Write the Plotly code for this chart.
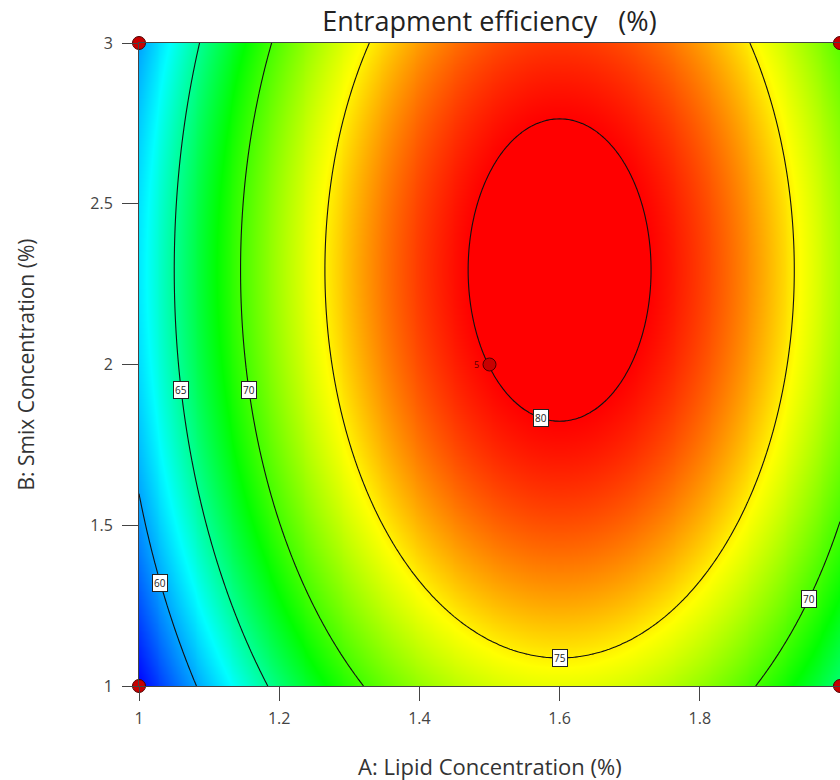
import numpy as np
import plotly.graph_objects as go

# ---- Data (quadratic response-surface model, coded units) ----
# Entrapment efficiency = b0 + bA*a + bB*b + bAB*a*b + bAA*a^2 + bBB*b^2
# a = (A - 1.5)/0.5 ,  b = (B - 2)/1
coef_names = ["b0", "bA", "bB", "bAB", "bAA", "bBB"]
coef_values = [80.02, 5.26, 2.38, 0.0, -13.15, -4.05]
A_center, A_half = 1.5, 0.5
B_center, B_half = 2.0, 1.0

contour_levels = [60, 65, 70, 75, 80]
# contour label anchors: (level, axis_given, value_given, branch)
label_level = [60, 65, 70, 70, 75, 80]
label_given_axis = ["B", "B", "B", "B", "A", "A"]
label_given_value = [1.32, 1.92, 1.92, 1.27, 1.6, 1.574]
label_branch = [-1, -1, -1, 1, -1, -1]

design_A = [1, 1, 2, 2, 1.5]
design_B = [1, 3, 1, 3, 2]
center_reps = "5"

x_ticks = [1, 1.2, 1.4, 1.6, 1.8, 2]
y_ticks = [1, 1.5, 2, 2.5, 3]

title_text = "Entrapment efficiency\u00a0\u00a0\u00a0(%)"
x_title = "A: Lipid Concentration (%)"
y_title = "B: Smix Concentration (%)"

c = dict(zip(coef_names, coef_values))


def model(A, B):
    a = (A - A_center) / A_half
    b = (B - B_center) / B_half
    return (c["b0"] + c["bA"] * a + c["bB"] * b + c["bAB"] * a * b
            + c["bAA"] * a ** 2 + c["bBB"] * b ** 2)


def solve_pos(level, axis, val, branch):
    if axis == "B":
        b = (val - B_center) / B_half
        qa = c["bAA"]
        qb = c["bA"] + c["bAB"] * b
        qc = c["b0"] + c["bB"] * b + c["bBB"] * b ** 2 - level
        disc = np.sqrt(qb ** 2 - 4 * qa * qc)
        roots = sorted([(-qb + disc) / (2 * qa), (-qb - disc) / (2 * qa)])
        a = roots[0] if branch < 0 else roots[1]
        return A_center + A_half * a, val
    else:
        a = (val - A_center) / A_half
        qa = c["bBB"]
        qb = c["bB"] + c["bAB"] * a
        qc = c["b0"] + c["bA"] * a + c["bAA"] * a ** 2 - level
        disc = np.sqrt(qb ** 2 - 4 * qa * qc)
        roots = sorted([(-qb + disc) / (2 * qa), (-qb - disc) / (2 * qa)])
        b = roots[0] if branch < 0 else roots[1]
        return val, B_center + B_half * b


A_grid = np.linspace(1, 2, 241)
B_grid = np.linspace(1, 3, 241)
AA, BB = np.meshgrid(A_grid, B_grid)
Z = model(AA, BB)
zmin, zmax = float(Z.min()), float(Z.max())


def frac(v):
    return (v - zmin) / (zmax - zmin)


colorscale = [
    [0.0, "#0000ff"],
    [frac(62.6), "#00ffff"],
    [frac(68.3), "#00ff00"],
    [frac(74.7), "#ffff00"],
    [frac(80.0), "#ff0000"],
    [1.0, "#ff0000"],
]

fig = go.Figure()
fig.add_trace(go.Heatmap(x=A_grid, y=B_grid, z=Z, colorscale=colorscale,
                         zmin=zmin, zmax=zmax, zsmooth="best",
                         showscale=False, hoverinfo="skip"))
fig.add_trace(go.Contour(x=A_grid, y=B_grid, z=Z,
                         contours=dict(start=contour_levels[0],
                                       end=contour_levels[-1],
                                       size=contour_levels[1] - contour_levels[0],
                                       coloring="none", showlabels=False),
                         line=dict(color="#111111", width=1.1),
                         showscale=False, hoverinfo="skip"))
fig.add_trace(go.Scatter(x=design_A, y=design_B, mode="markers",
                         marker=dict(size=13, color="#c80000",
                                     line=dict(color="#4a0000", width=1)),
                         cliponaxis=False, hoverinfo="skip"))

annotations = []
for lv, ax_, val, br in zip(label_level, label_given_axis, label_given_value, label_branch):
    px, py = solve_pos(lv, ax_, val, br)
    annotations.append(dict(x=px, y=py, xref="x", yref="y", text=str(lv),
                            showarrow=False, bgcolor="white",
                            bordercolor="#222222", borderwidth=1, borderpad=1,
                            font=dict(size=10, color="#222222", family="Open Sans")))

# replicate count next to the centre point
annotations.append(dict(x=design_A[-1], y=design_B[-1], xref="x", yref="y",
                        text=center_reps, showarrow=False, xanchor="right",
                        xshift=-9, font=dict(size=9, color="#5a0000", family="Open Sans")))

annotations.append(dict(x=0.5, y=-0.1244, xref="paper", yref="paper", text=x_title,
                        showarrow=False, xanchor="center", yanchor="middle",
                        font=dict(size=22, color="#333333", family="Open Sans")))
annotations.append(dict(x=-0.1626, y=0.5, xref="paper", yref="paper", text=y_title,
                        showarrow=False, xanchor="center", yanchor="middle",
                        textangle=-90,
                        font=dict(size=21, color="#333333", family="Open Sans")))

fig.update_layout(
    width=840, height=780,
    margin=dict(l=139, r=0, t=43, b=94, pad=0),
    paper_bgcolor="white", plot_bgcolor="white",
    showlegend=False,
    title=dict(text=title_text, x=0.5826, xanchor="center", y=1 - 22 / 780,
               yanchor="middle", font=dict(size=27, color="#222222", family="Open Sans")),
    annotations=annotations,
    xaxis=dict(range=[1, 2], tickvals=x_ticks, ticktext=[f"{t:g}" for t in x_ticks],
               ticks="outside", ticklen=14, tickcolor="#444444", tickwidth=1,
               showline=True, linecolor="#444444", linewidth=1, mirror=True,
               showgrid=False, zeroline=False, ticklabelstandoff=4,
               tickfont=dict(size=16, color="#444444", family="Open Sans")),
    yaxis=dict(range=[1, 3], tickvals=y_ticks, ticktext=[f"{t:g}" for t in y_ticks],
               ticks="outside", ticklen=16, tickcolor="#444444", tickwidth=1,
               showline=True, linecolor="#444444", linewidth=1, mirror=True,
               showgrid=False, zeroline=False, ticklabelstandoff=6,
               tickfont=dict(size=16, color="#444444", family="Open Sans")),
)

fig.write_html("out.html")
